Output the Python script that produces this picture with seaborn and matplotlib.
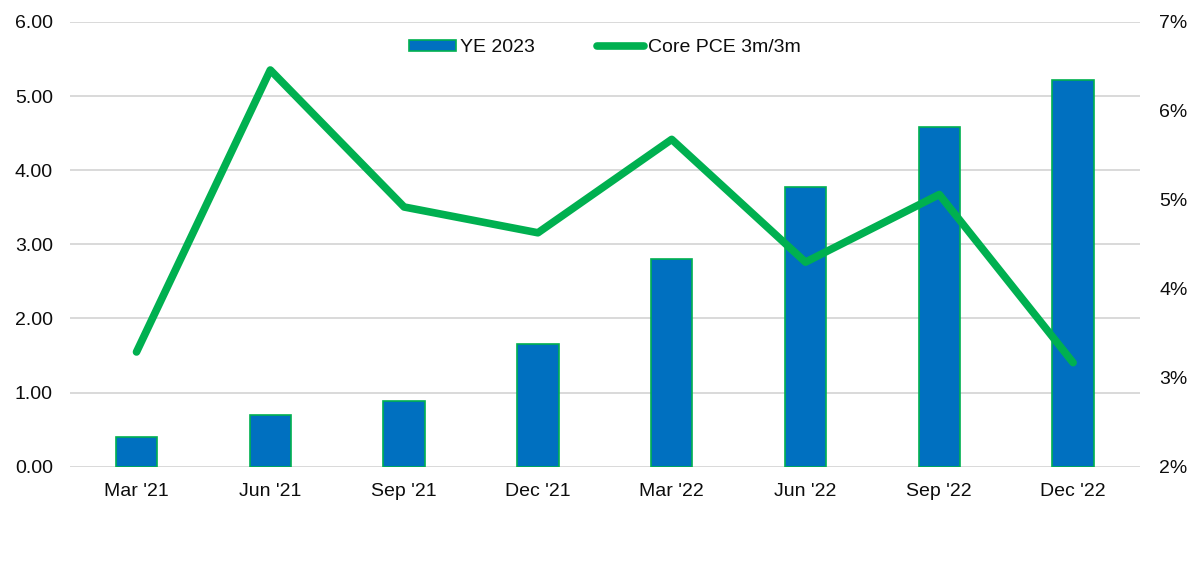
import pandas as pd
import matplotlib.pyplot as plt
import seaborn as sns
from matplotlib.ticker import FuncFormatter

# данные
quarters = ["Mar '21", "Jun '21", "Sep '21", "Dec '21",
            "Mar '22", "Jun '22", "Sep '22", "Dec '22"]
ye_2023 = [0.40, 0.70, 0.89, 1.65, 2.80, 3.78, 4.58, 5.22]
core_pce = [3.29, 6.46, 4.92, 4.63, 5.68, 4.30, 5.06, 3.17]

BLUE = "#0070C0"
GREEN = "#00B050"
GRID = "#D9D9D9"

df = pd.DataFrame({"quarter": quarters, "ye": ye_2023, "pce": core_pce})

sns.set_style("white")
plt.rcParams["font.family"] = ["Liberation Sans", "DejaVu Sans"]

fig, ax = plt.subplots(figsize=(12, 5.63), dpi=100)
fig.subplots_adjust(left=0.058, right=0.95, top=0.961, bottom=0.171)

sns.barplot(data=df, x="quarter", y="ye", color=BLUE, saturation=1,
            width=0.31, edgecolor=GREEN, linewidth=1.2, ax=ax,
            label="YE 2023", zorder=2)

ax.set_ylim(0, 6)
ax.set_yticks([0, 1, 2, 3, 4, 5, 6])
ax.yaxis.set_major_formatter(FuncFormatter(lambda v, p: f"{v:.2f}"))
ax.set_xlim(-0.5, 7.5)
ax.grid(True, axis="y", color=GRID, linewidth=1.4, zorder=0)
ax.set_axisbelow(True)
ax.set_xlabel("")
ax.set_ylabel("")
for s in ax.spines.values():
    s.set_visible(False)
ax.tick_params(axis="both", length=0, labelsize=14, pad=12,
               labelcolor="#0D0D0D")

ax2 = ax.twinx()
sns.lineplot(data=df, x="quarter", y="pce", color=GREEN, linewidth=5.5,
             ax=ax2, label="Core PCE 3m/3m", sort=False,
             solid_capstyle="round")
ax2.set_ylim(2, 7)
ax2.set_yticks([2, 3, 4, 5, 6, 7])
ax2.yaxis.set_major_formatter(FuncFormatter(lambda v, p: f"{v:.0f}%"))
ax2.set_ylabel("")
for s in ax2.spines.values():
    s.set_visible(False)
ax2.tick_params(axis="y", length=0, labelsize=14, pad=14,
                labelcolor="#0D0D0D")
ax2.set_xlim(-0.5, 7.5)

# общая легенда
h1, l1 = ax.get_legend_handles_labels()
h2, l2 = ax2.get_legend_handles_labels()
if ax2.get_legend() is not None:
    ax2.get_legend().remove()
if ax.get_legend() is not None:
    ax.get_legend().remove()
leg = ax2.legend(h1 + h2, l1 + l2, loc="upper center",
                 bbox_to_anchor=(0.5, 1.0), ncol=2, frameon=False,
                 fontsize=14, handlelength=2.4, handleheight=0.5,
                 handletextpad=0.2, columnspacing=3.2)
for t in leg.get_texts():
    t.set_color("#0D0D0D")

fig.savefig("out.png", dpi=100)
